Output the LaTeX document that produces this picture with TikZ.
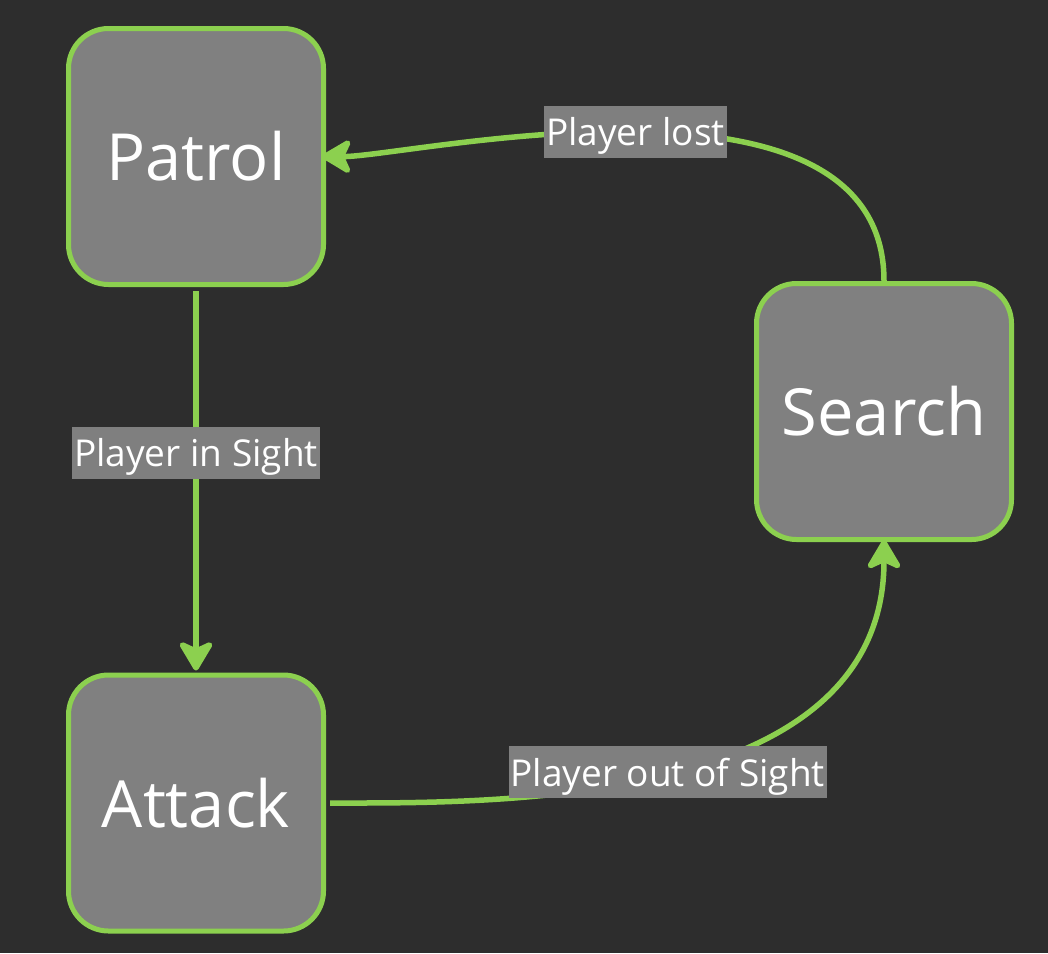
\documentclass[tikz,border=0pt]{standalone}
\usepackage{fontspec}
\setmainfont{Open Sans}
\usetikzlibrary{arrows.meta}
\definecolor{bgc}{HTML}{2D2D2D}
\definecolor{boxc}{HTML}{808080}
\definecolor{grn}{HTML}{8CD04F}
\definecolor{lblc}{HTML}{7F7F7F}
\tikzset{
  state/.style={draw=grn, fill=boxc, line width=5pt, rounded corners=40pt,
    minimum width=255pt, minimum height=256pt, text=white,
    font=\fontsize{65}{78}\selectfont, inner sep=0pt},
  edge/.style={draw=grn, line width=5.5pt,
    -{Stealth[length=34pt, width=40pt, inset=9pt, round]}},
  lbl/.style={fill=lblc, text=white, font=\fontsize{37}{44}\selectfont,
    inner xsep=2pt, inner ysep=0pt, text height=40pt, text depth=12pt}
}
\begin{document}
\begin{tikzpicture}[x=1pt, y=-1pt]
  \fill[bgc] (0,0) rectangle (1048,953);
  \useasboundingbox (0,0) rectangle (1048,953);
  \node[state] (patrol) at (196,156.5) {Patrol};
  \node[state] (search) at (884,411.5) {Search};
  \node[state] (attack) at (196,803) {Attack};
  \draw[edge, shorten <=4pt, shorten >=2pt] (patrol.south) -- (attack.north)
    node[lbl, pos=0.43] (l1) {Player in Sight};
  \draw[edge, shorten >=-4pt] (search.north) .. controls (884,48) and (407,157) .. (patrol.east)
    node[lbl, pos=0.5] (l2) {Player lost};
  \draw[edge, shorten <=4pt, shorten >=-2pt] (attack.east) .. controls (493,803) and (884,808) .. (search.south)
    node[lbl, pos=0.5] (l3) {Player out of Sight};
\end{tikzpicture}
\end{document}
